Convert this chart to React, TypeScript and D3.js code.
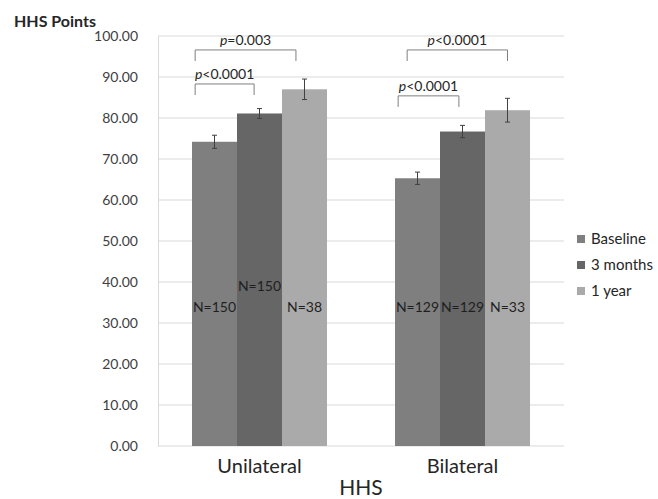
import React, { useEffect, useRef } from "react";
import * as d3 from "d3";

const categories = ["Unilateral", "Bilateral"];
const seriesNames = ["Baseline", "3 months", "1 year"];
const seriesColors = ["#7f7f7f", "#666666", "#aaaaaa"];
// mean HHS points per category, one array per series
const baseline = [74.2, 65.3];
const threeMonths = [81.1, 76.7];
const oneYear = [87.0, 81.9];
// error bar half-widths
const baselineErr = [1.6, 1.5];
const threeMonthsErr = [1.2, 1.5];
const oneYearErr = [2.5, 2.9];
// sample sizes shown inside bars
const baselineN = ["N=150", "N=129"];
const threeMonthsN = ["N=150", "N=129"];
const oneYearN = ["N=38", "N=33"];
const yTicks = [0, 10, 20, 30, 40, 50, 60, 70, 80, 90, 100];

// significance brackets: category, from series (offset in bar), to series
const brackets = [
  { cat: "Unilateral", from: 0, fromOff: 0.07, to: 2, toOff: 0.31, level: 96.6, drop: 2.7, label: "=0.003" },
  { cat: "Unilateral", from: 0, fromOff: 0.07, to: 1, toOff: 0.38, level: 88.3, drop: 2.7, label: "<0.0001" },
  { cat: "Bilateral", from: 0, fromOff: 0.27, to: 2, toOff: 0.5, level: 96.6, drop: 2.7, label: "<0.0001" },
  { cat: "Bilateral", from: 0, fromOff: 0.07, to: 1, toOff: 0.42, level: 85.4, drop: 2.7, label: "<0.0001" },
];

const W = 658;
const H = 499;
const margin = { top: 36, right: 94, bottom: 53, left: 158 };
const font = "Lato, 'Open Sans', sans-serif";

export default function App() {
  const svgRef = useRef<SVGSVGElement>(null);

  useEffect(() => {
    const svg = d3.select(svgRef.current);
    svg.selectAll("*").remove();
    const innerW = W - margin.left - margin.right;
    const innerH = H - margin.top - margin.bottom;
    const g = svg.append("g").attr("transform", `translate(${margin.left},${margin.top})`);

    const values = [baseline, threeMonths, oneYear];
    const errs = [baselineErr, threeMonthsErr, oneYearErr];
    const ns = [baselineN, threeMonthsN, oneYearN];

    const x0 = d3.scaleBand().domain(categories).range([0, innerW]).paddingInner(0.335).paddingOuter(0.1675);
    const x1 = d3.scaleBand().domain(seriesNames).range([0, x0.bandwidth()]);
    const y = d3.scaleLinear().domain([0, 100]).range([innerH, 0]);

    // gridlines
    g.append("g")
      .selectAll("line")
      .data(yTicks)
      .enter()
      .append("line")
      .attr("x1", 0)
      .attr("x2", innerW)
      .attr("y1", (d) => y(d))
      .attr("y2", (d) => y(d))
      .attr("stroke", "#d9d9d9")
      .attr("stroke-width", 1);

    // y axis
    const yAxis = g.append("g").call(
      d3.axisLeft(y).tickValues(yTicks).tickSize(0).tickPadding(20).tickFormat((d) => d3.format(".2f")(d as number))
    );
    yAxis.select(".domain").attr("stroke", "#d9d9d9");
    yAxis.selectAll("text").attr("font-family", font).attr("font-size", 14).attr("fill", "#404040");

    // bars
    seriesNames.forEach((s, si) => {
      const grp = g.append("g");
      grp
        .selectAll("rect")
        .data(categories)
        .enter()
        .append("rect")
        .attr("x", (c) => x0(c)! + x1(s)!)
        .attr("y", (c, ci) => y(values[si][ci]))
        .attr("width", x1.bandwidth())
        .attr("height", (c, ci) => innerH - y(values[si][ci]))
        .attr("fill", seriesColors[si]);

      // error bars
      categories.forEach((c, ci) => {
        const cx = x0(c)! + x1(s)! + x1.bandwidth() / 2;
        const v = values[si][ci];
        const e = errs[si][ci];
        const eg = g.append("g").attr("stroke", "#404040").attr("stroke-width", 1);
        eg.append("line").attr("x1", cx).attr("x2", cx).attr("y1", y(v - e)).attr("y2", y(v + e));
        eg.append("line").attr("x1", cx - 2.5).attr("x2", cx + 2.5).attr("y1", y(v - e)).attr("y2", y(v - e));
        eg.append("line").attr("x1", cx - 2.5).attr("x2", cx + 2.5).attr("y1", y(v + e)).attr("y2", y(v + e));
      });
    });

    // N labels
    seriesNames.forEach((s, si) => {
      categories.forEach((c, ci) => {
        const level = si === 1 && ci === 0 ? 39 : 34;
        g.append("text")
          .attr("x", x0(c)! + x1(s)! + x1.bandwidth() / 2)
          .attr("y", y(level))
          .attr("dy", "0.35em")
          .attr("text-anchor", "middle")
          .attr("font-family", font)
          .attr("font-size", 14)
          .attr("fill", "#1f1f1f")
          .text(ns[si][ci]);
      });
    });

    // significance brackets
    brackets.forEach((b) => {
      const xa = x0(b.cat)! + x1(seriesNames[b.from])! + x1.bandwidth() * b.fromOff;
      const xb = x0(b.cat)! + x1(seriesNames[b.to])! + x1.bandwidth() * b.toOff;
      const yTop = y(b.level);
      const yBot = y(b.level - b.drop);
      g.append("path")
        .attr("d", `M${xa},${yBot}V${yTop}H${xb}V${yBot}`)
        .attr("fill", "none")
        .attr("stroke", "#7f7f7f")
        .attr("stroke-width", 1);
      const t = g
        .append("text")
        .attr("x", (xa + xb) / 2)
        .attr("y", yTop - 5)
        .attr("text-anchor", "middle")
        .attr("font-family", font)
        .attr("font-size", 14)
        .attr("fill", "#262626");
      t.append("tspan").attr("font-style", "italic").text("p");
      t.append("tspan").text(b.label);
    });

    // category labels
    g.append("g")
      .selectAll("text")
      .data(categories)
      .enter()
      .append("text")
      .attr("x", (c) => x0(c)! + x0.bandwidth() / 2)
      .attr("y", innerH + 27)
      .attr("text-anchor", "middle")
      .attr("font-family", font)
      .attr("font-size", 20)
      .attr("fill", "#262626")
      .text((c) => c);

    // axis titles
    svg
      .append("text")
      .attr("x", margin.left + innerW / 2)
      .attr("y", H - 4)
      .attr("text-anchor", "middle")
      .attr("font-family", font)
      .attr("font-size", 21)
      .attr("fill", "#262626")
      .text("HHS");
    svg
      .append("text")
      .attr("x", 14)
      .attr("y", 27)
      .attr("font-family", font)
      .attr("font-size", 16)
      .attr("font-weight", "bold")
      .attr("fill", "#262626")
      .text("HHS Points");

    // legend
    const legend = svg.append("g").attr("transform", `translate(577,239)`);
    seriesNames.forEach((s, si) => {
      const row = legend.append("g").attr("transform", `translate(0,${si * 26})`);
      row.append("rect").attr("x", 0).attr("y", -4).attr("width", 8).attr("height", 8).attr("fill", seriesColors[si]);
      row
        .append("text")
        .attr("x", 14)
        .attr("y", 0)
        .attr("dy", "0.35em")
        .attr("font-family", font)
        .attr("font-size", 15)
        .attr("fill", "#262626")
        .text(s);
    });
  }, []);

  return <svg ref={svgRef} width={W} height={H} style={{ display: "block", position: "absolute", left: 0, top: 0 }} />;
}
